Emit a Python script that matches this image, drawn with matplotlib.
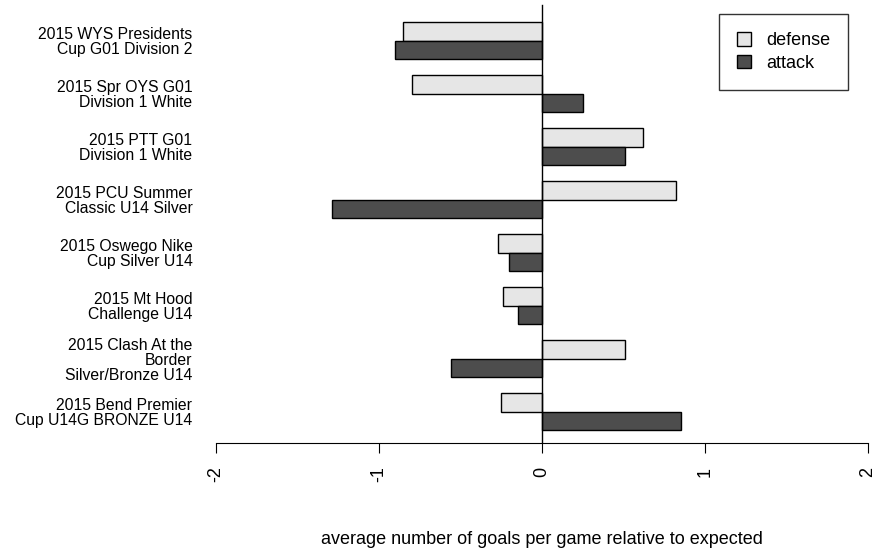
import matplotlib
matplotlib.use("Agg")
import matplotlib.pyplot as plt
from matplotlib.patches import Patch

plt.rcParams["font.family"] = ["Liberation Sans", "DejaVu Sans"]

# tournaments, top to bottom
tournaments = ["2015 WYS Presidents\nCup G01 Division 2",
               "2015 Spr OYS G01\nDivision 1 White",
               "2015 PTT G01\nDivision 1 White",
               "2015 PCU Summer\nClassic U14 Silver",
               "2015 Oswego Nike\nCup Silver U14",
               "2015 Mt Hood\nChallenge U14",
               "2015 Clash At the\nBorder\nSilver/Bronze U14",
               "2015 Bend Premier\nCup U14G BRONZE U14"]
defense = [-0.85, -0.80, 0.62, 0.82, -0.27, -0.24, 0.51, -0.25]
attack = [-0.90, 0.25, 0.51, -1.29, -0.20, -0.15, -0.56, 0.85]

W, H = 880, 550
fig = plt.figure(figsize=(W / 100, H / 100), dpi=100)
# axes in pixel terms: x -2..2 -> 216..868, y 0..443 from the top
ax = fig.add_axes([216 / W, 1 - 443 / H, 652 / W, 443 / H])
ax.set_xlim(-2, 2)
ax.set_ylim(443, 0)

step, bh = 53, 18.5
for k in range(len(tournaments)):
    yd = 31.5 + step * k
    ax.barh(yd, defense[k], height=bh, color="#e6e6e6", edgecolor="black", linewidth=1)
    ax.barh(yd + bh, attack[k], height=bh, color="#4d4d4d", edgecolor="black", linewidth=1)

ax.axvline(0, ymin=0, ymax=438 / 443, color="black", linewidth=1)
for s in ["top", "right", "left"]:
    ax.spines[s].set_visible(False)
ax.spines["bottom"].set_bounds(-2, 2)
ax.set_xticks([-2, -1, 0, 1, 2])
ax.set_xticklabels(["-2", "-1", "0", "1", "2"], rotation=90, fontsize=13)
ax.tick_params(axis="x", length=7, pad=10)
ax.set_yticks([31.5 + step * k + bh / 2 for k in range(len(tournaments))])
ax.set_yticklabels(tournaments, fontsize=11.3, ha="right", linespacing=1.0)
for t in ax.get_yticklabels():
    t.set_multialignment("right")
ax.tick_params(axis="y", length=0, pad=17)

fig.text(542 / W, 1 - 540 / H, "average number of goals per game relative to expected",
         ha="center", va="center", fontsize=13)

handles = [Patch(facecolor="#e6e6e6", edgecolor="black", label="defense"),
           Patch(facecolor="#4d4d4d", edgecolor="black", label="attack")]
leg = fig.legend(handles=handles, loc="upper right", bbox_to_anchor=(848 / W, 1 - 14 / H),
                 fontsize=13, fancybox=False, edgecolor="black", handlelength=0.8,
                 handleheight=0.8, borderpad=1.0, labelspacing=0.3, handletextpad=0.8,
                 borderaxespad=0)
leg.get_frame().set_linewidth(1)

fig.savefig("out.png", dpi=100)
